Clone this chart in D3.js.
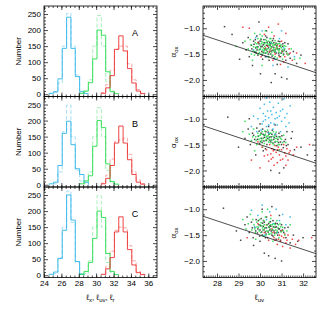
<!DOCTYPE html>
<html>
<head>
<meta charset="utf-8">
<script src="https://cdn.jsdelivr.net/npm/d3@7"></script>
<style>
body { margin: 0; background: #fff; }
svg { display: block; }
text { font-family: "Liberation Sans", Arial, sans-serif; fill: #000; }
</style>
</head>
<body>
<div id="chart"></div>
<script>
// histogram bin edges (0.5 wide)
const binEdges = [24.1, 24.6, 25.1, 25.6, 26.1, 26.6, 27.1, 27.6, 28.1, 28.6, 29.1, 29.6, 30.1,
    30.6, 31.1, 31.6, 32.1, 32.6, 33.1, 33.6, 34.1, 34.6, 35.1, 35.6, 36.1];

// counts per bin; solid = bright line, dashed = pale line
const blueSolidA  = [0, 3, 8, 48, 143, 240, 143, 55, 8, 2, 0, 0, 0, 0, 0, 0, 0, 0, 0, 0, 0, 0, 0, 0];
const blueDashA   = [0, 2, 5, 35, 150, 252, 150, 60, 10, 0, 0, 0, 0, 0, 0, 0, 0, 0, 0, 0, 0, 0, 0, 0];
const greenSolidA = [0, 0, 0, 0, 0, 0, 0, 0, 3, 10, 36, 110, 200, 184, 70, 8, 2, 0, 0, 0, 0, 0, 0, 0];
const greenDashA  = [0, 0, 0, 0, 0, 0, 0, 0, 2, 8, 45, 150, 245, 150, 40, 10, 0, 0, 0, 0, 0, 0, 0, 0];
const redSolidA   = [0, 0, 0, 0, 0, 0, 0, 0, 0, 0, 0, 0, 0, 3, 20, 58, 140, 182, 135, 80, 35, 10, 2, 0];
const redDashA    = [0, 0, 0, 0, 0, 0, 0, 0, 0, 0, 0, 0, 0, 5, 30, 75, 140, 150, 150, 95, 45, 15, 4, 0];

const blueSolidB  = [0, 3, 8, 60, 160, 198, 125, 50, 32, 8, 0, 0, 0, 0, 0, 0, 0, 0, 0, 0, 0, 0, 0, 0];
const blueDashB   = [0, 0, 3, 40, 165, 248, 150, 45, 12, 0, 0, 0, 0, 0, 0, 0, 0, 0, 0, 0, 0, 0, 0, 0];
const greenSolidB = [0, 0, 0, 0, 0, 0, 0, 0, 3, 12, 28, 120, 200, 178, 65, 10, 2, 0, 0, 0, 0, 0, 0, 0];
const greenDashB  = [0, 0, 0, 0, 0, 0, 0, 0, 0, 5, 40, 150, 240, 150, 45, 8, 0, 0, 0, 0, 0, 0, 0, 0];
const redSolidB   = [0, 0, 0, 0, 0, 0, 0, 0, 0, 0, 0, 0, 0, 3, 20, 60, 130, 183, 130, 78, 32, 8, 2, 0];
const redDashB    = [0, 0, 0, 0, 0, 0, 0, 0, 0, 0, 0, 0, 0, 5, 30, 80, 135, 140, 145, 95, 40, 15, 3, 0];

const blueSolidC  = [0, 3, 10, 52, 140, 250, 172, 43, 3, 0, 0, 0, 0, 0, 0, 0, 0, 0, 0, 0, 0, 0, 0, 0];
const blueDashC   = [0, 0, 5, 55, 150, 262, 165, 40, 5, 0, 0, 0, 0, 0, 0, 0, 0, 0, 0, 0, 0, 0, 0, 0];
const greenSolidC = [0, 0, 0, 0, 0, 0, 0, 0, 3, 12, 40, 115, 200, 180, 68, 12, 2, 0, 0, 0, 0, 0, 0, 0];
const greenDashC  = [0, 0, 0, 0, 0, 0, 0, 0, 0, 6, 45, 150, 248, 150, 40, 8, 0, 0, 0, 0, 0, 0, 0, 0];
const redSolidC   = [0, 0, 0, 0, 0, 0, 0, 0, 0, 0, 0, 0, 0, 3, 20, 55, 135, 182, 135, 80, 32, 8, 2, 0];
const redDashC    = [0, 0, 0, 0, 0, 0, 0, 0, 0, 0, 0, 0, 0, 0, 28, 75, 140, 150, 148, 92, 45, 12, 3, 0];

// scatter points [l_uv, alpha_ox]
const blackA = [[28.35,-0.97],[28.7,-1.12],[29.05,-1.6],[29.2,-1.28],[29.35,-1.42],[29.45,-1.18],[29.5,-1.55],[29.6,-1.33],[29.65,-1.72],[29.7,-1.25],[29.75,-1.46],[29.8,-1.38],[29.85,-1.15],[29.9,-1.52],[29.95,-1.3],[30.0,-1.41],[30.02,-1.88],[30.05,-1.22],[30.1,-1.35],[30.12,-1.6],[30.15,-1.47],[30.2,-1.28],[30.22,-1.4],[30.25,-1.55],[30.3,-1.33],[30.32,-1.18],[30.35,-1.45],[30.4,-1.38],[30.42,-1.62],[30.45,-1.27],[30.5,-1.5],[30.52,-2.05],[30.55,-1.36],[30.6,-1.43],[30.62,-1.2],[30.65,-1.58],[30.7,-1.32],[30.75,-1.48],[30.8,-1.7],[30.85,-1.25],[30.9,-1.4],[30.95,-1.55],[31.0,-1.95],[31.05,-1.35],[31.1,-1.5],[31.2,-1.62],[31.3,-1.3],[31.4,-1.58],[31.55,-1.45],[31.7,-1.68],[31.9,-1.52],[30.3,-1.05],[29.95,-0.88],[30.7,-1.88],[31.25,-1.98],
    [29.9,-1.36],[30.0,-1.25],[30.08,-1.45],[30.15,-1.32],[30.28,-1.42],[30.33,-1.27],[30.38,-1.5],[30.46,-1.33],[30.52,-1.44],[30.58,-1.24],[30.63,-1.37],[30.68,-1.46],[30.74,-1.29],[30.82,-1.4],[30.88,-1.52],[30.93,-1.34],[31.02,-1.44],[31.15,-1.28],[29.82,-1.48],[29.72,-1.31],
    [29.62,-1.4],[29.78,-1.22],[29.86,-1.42],[29.93,-1.27],[30.04,-1.36],[30.1,-1.52],[30.18,-1.22],[30.24,-1.48],[30.36,-1.34],[30.44,-1.46],[30.5,-1.3],[30.56,-1.54],[30.64,-1.28],[30.7,-1.42],[30.78,-1.34],[30.86,-1.48],[30.92,-1.26],[31.0,-1.48],[31.06,-1.3],[31.12,-1.42],[31.22,-1.45],[31.35,-1.5],[30.4,-1.55],[30.26,-1.15]];
const greenA = [[28.9,-1.35],[29.3,-1.25],[29.45,-1.4],[29.55,-1.22],[29.6,-1.5],[29.7,-1.36],[29.75,-1.1],[29.8,-1.45],[29.85,-1.3],[29.9,-1.2],[29.95,-1.42],[30.0,-1.33],[30.05,-1.5],[30.08,-1.26],[30.1,-1.15],[30.15,-1.38],[30.18,-1.44],[30.2,-1.3],[30.25,-1.22],[30.28,-1.48],[30.3,-1.4],[30.35,-1.3],[30.38,-1.55],[30.4,-1.25],[30.45,-1.42],[30.48,-1.35],[30.5,-1.2],[30.55,-1.46],[30.58,-1.3],[30.6,-1.52],[30.65,-1.38],[30.7,-1.24],[30.72,-1.45],[30.78,-1.35],[30.8,-1.58],[30.85,-1.42],[30.9,-1.3],[30.95,-1.48],[31.0,-1.38],[31.05,-1.6],[31.1,-1.45],[31.2,-1.35],[31.3,-1.52],[31.45,-1.4],[31.6,-1.6],[30.25,-1.05],[30.55,-1.08],[29.65,-1.62],[30.1,-1.72],[31.85,-1.58],[30.0,-1.12],
    [29.88,-1.38],[29.97,-1.47],[30.03,-1.2],[30.12,-1.42],[30.22,-1.35],[30.27,-1.28],[30.33,-1.46],[30.42,-1.32],[30.47,-1.5],[30.53,-1.27],[30.62,-1.41],[30.67,-1.32],[30.75,-1.4],[30.83,-1.3],[30.88,-1.46],[30.98,-1.32],[31.08,-1.52],[31.15,-1.4],[29.78,-1.28],[29.68,-1.44],
    [29.58,-1.32],[29.74,-1.52],[29.83,-1.36],[29.92,-1.5],[30.02,-1.4],[30.06,-1.3],[30.14,-1.28],[30.2,-1.42],[30.3,-1.24],[30.36,-1.4],[30.44,-1.3],[30.52,-1.38],[30.6,-1.33],[30.66,-1.44],[30.74,-1.3],[30.8,-1.38],[30.9,-1.42],[30.96,-1.36],[31.04,-1.42],[31.12,-1.34],[31.25,-1.48],[30.46,-1.2],[30.16,-1.48],[30.7,-1.55]];
const redA = [[29.5,-1.0],[29.9,-1.28],[30.05,-1.55],[30.2,-1.12],[30.35,-1.35],[30.5,-1.4],[30.6,-1.62],[30.65,-1.15],[30.7,-1.5],[30.8,-1.32],[30.85,-0.92],[30.9,-1.55],[31.0,-1.25],[31.05,-1.45],[31.1,-1.65],[31.2,-1.1],[31.25,-1.5],[31.35,-1.4],[31.5,-1.62],[31.7,-1.48],[32.1,-1.68],[29.2,-0.98],[30.4,-0.98],[30.95,-1.7],
    [30.45,-1.45],[30.75,-1.38],[31.15,-1.55],[30.9,-1.35],[30.25,-1.38],[31.4,-1.48]];
const blueA = [[29.8,-1.18],[30.1,-1.05],[30.3,-1.55],[30.5,-1.28],[30.7,-1.6],[30.9,-1.2],[31.1,-1.38],[31.3,-1.75],[31.6,-1.55],[30.6,-1.72],[29.7,-1.42],[31.0,-1.05]];

const blackB = [[28.5,-0.97],[29.0,-1.55],[29.3,-1.38],[29.45,-1.2],[29.55,-1.5],[29.65,-1.28],[29.75,-1.4],[29.85,-1.18],[29.92,-1.34],[29.98,-1.48],[30.05,-1.28],[30.08,-1.38],[30.12,-1.2],[30.18,-1.43],[30.22,-1.32],[30.27,-1.25],[30.32,-1.5],[30.36,-1.38],[30.42,-1.3],[30.46,-1.42],[30.52,-1.35],[30.57,-1.22],[30.6,-1.47],[30.66,-1.36],[30.72,-1.3],[30.78,-1.52],[30.83,-1.4],[30.88,-1.28],[30.95,-1.45],[31.02,-1.33],[31.08,-1.56],[31.18,-1.4],[31.3,-1.5],[31.45,-1.38],[31.6,-1.6],[31.9,-1.55],[32.2,-1.7],[30.5,-2.0],[30.9,-2.05],[31.1,-1.95],[29.8,-1.7],[30.0,-1.1],[29.5,-1.0],[30.25,-1.58],[30.65,-1.6],[31.25,-1.25],[30.15,-1.62],[30.4,-1.15],[30.7,-1.12],[31.5,-1.25],
    [29.7,-1.32],[29.88,-1.4],[29.96,-1.24],[30.02,-1.44],[30.14,-1.3],[30.2,-1.36],[30.3,-1.42],[30.38,-1.26],[30.44,-1.36],[30.5,-1.45],[30.55,-1.3],[30.63,-1.4],[30.7,-1.45],[30.76,-1.34],[30.86,-1.46],[30.92,-1.35],[31.0,-1.5],[31.12,-1.44],[31.22,-1.52],[30.1,-1.46]];
const greenB = [[29.2,-1.25],[29.5,-1.3],[29.6,-1.42],[29.7,-1.2],[29.8,-1.35],[29.85,-1.5],[29.9,-1.28],[29.95,-1.4],[30.0,-1.32],[30.05,-1.45],[30.1,-1.25],[30.15,-1.38],[30.2,-1.48],[30.25,-1.3],[30.3,-1.4],[30.35,-1.22],[30.4,-1.45],[30.45,-1.35],[30.5,-1.28],[30.55,-1.42],[30.6,-1.34],[30.65,-1.5],[30.7,-1.38],[30.75,-1.26],[30.8,-1.44],[30.85,-1.35],[30.9,-1.5],[31.0,-1.4],[31.1,-1.32],[31.2,-1.46],[30.12,-1.55],[30.38,-1.33],[30.62,-1.25],[29.75,-1.62],[30.9,-1.6],[29.3,-1.05],[30.28,-1.36],[30.48,-1.46],[30.72,-1.44],[30.02,-1.38],
    [29.66,-1.35],[29.82,-1.42],[29.93,-1.33],[30.04,-1.3],[30.08,-1.42],[30.18,-1.32],[30.26,-1.42],[30.32,-1.34],[30.42,-1.4],[30.52,-1.4],[30.58,-1.48],[30.68,-1.32],[30.78,-1.38],[30.84,-1.5],[30.95,-1.38],[31.05,-1.46],[30.22,-1.24],[30.46,-1.28]];
const redB = [[30.1,-1.55],[30.2,-1.72],[30.3,-1.6],[30.4,-1.82],[30.45,-1.5],[30.5,-1.68],[30.55,-1.58],[30.6,-1.75],[30.7,-1.52],[30.75,-1.65],[30.8,-1.85],[30.85,-1.55],[30.9,-1.7],[31.0,-1.6],[31.05,-1.78],[31.1,-1.5],[31.15,-1.66],[31.25,-1.58],[31.3,-1.8],[31.4,-1.62],[31.55,-1.7],[31.7,-1.55],[32.3,-1.5],[29.6,-1.8],[30.0,-1.95],[30.65,-1.9],[31.2,-1.9],[29.9,-1.45],
    [30.35,-1.7],[30.62,-1.62],[30.95,-1.8],[31.2,-1.72],[30.82,-1.6],[31.35,-1.66],[30.52,-1.78]];
const blueB = [[29.7,-0.95],[29.9,-1.0],[30.0,-0.8],[30.1,-1.1],[30.15,-0.9],[30.2,-0.72],[30.25,-1.02],[30.3,-1.15],[30.35,-0.85],[30.4,-0.98],[30.45,-0.68],[30.5,-1.08],[30.55,-0.92],[30.6,-1.2],[30.62,-0.78],[30.7,-1.0],[30.75,-0.88],[30.8,-1.12],[30.85,-0.7],[30.9,-0.95],[31.0,-1.05],[31.05,-0.82],[31.1,-0.62],[31.15,-0.98],[31.25,-0.9],[31.35,-1.08],[30.05,-1.22],[30.4,-1.28],[30.7,-1.3],[29.6,-1.15],[31.4,-0.75],[30.95,-1.25],[30.3,-0.6],[29.85,-1.25],
    [30.25,-0.95],[30.5,-0.85],[30.65,-1.1],[30.95,-0.85],[30.15,-1.05],[30.8,-0.98],[31.2,-1.15],[30.4,-1.12]];

const blackC = [[28.3,-0.98],[28.9,-1.42],[29.1,-1.6],[29.3,-1.3],[29.4,-1.15],[29.5,-1.45],[29.6,-1.25],[29.68,-1.55],[29.75,-1.35],[29.82,-1.2],[29.88,-1.46],[29.95,-1.3],[30.0,-1.4],[30.05,-1.18],[30.1,-1.5],[30.15,-1.33],[30.2,-1.25],[30.25,-1.44],[30.3,-1.36],[30.35,-1.55],[30.4,-1.28],[30.45,-1.4],[30.5,-1.33],[30.55,-1.5],[30.6,-1.22],[30.65,-1.42],[30.7,-1.35],[30.75,-1.58],[30.8,-1.28],[30.85,-1.45],[30.9,-1.38],[30.95,-1.6],[31.0,-1.3],[31.1,-1.45],[31.2,-1.55],[31.3,-1.35],[31.4,-1.65],[31.55,-1.5],[31.75,-1.62],[32.0,-1.55],[30.2,-1.85],[30.4,-1.9],[30.7,-1.95],[31.0,-2.0],[30.1,-1.0],[30.55,-0.95],[29.7,-1.7],[30.0,-1.62],[30.3,-1.15],[30.9,-1.12],[29.9,-1.38],[30.12,-1.27],[30.28,-1.48],[30.42,-1.35],[30.58,-1.4],[30.72,-1.27],[30.82,-1.5],[29.98,-1.52],[30.18,-1.4],[30.48,-1.24],
    [29.64,-1.36],[29.8,-1.42],[29.92,-1.22],[30.02,-1.32],[30.08,-1.44],[30.16,-1.22],[30.22,-1.36],[30.32,-1.3],[30.38,-1.44],[30.46,-1.32],[30.52,-1.42],[30.62,-1.34],[30.68,-1.46],[30.76,-1.34],[30.86,-1.38],[30.96,-1.42],[31.04,-1.4],[31.15,-1.36],[30.25,-1.55],[30.6,-1.52]];
const greenC = [[29.2,-1.2],[29.35,-1.38],[29.45,-1.28],[29.55,-1.1],[29.62,-1.4],[29.72,-1.3],[29.78,-1.45],[29.85,-1.25],[29.92,-1.35],[29.98,-1.2],[30.03,-1.45],[30.08,-1.32],[30.13,-1.4],[30.17,-1.22],[30.22,-1.36],[30.27,-1.5],[30.32,-1.3],[30.37,-1.42],[30.43,-1.25],[30.47,-1.38],[30.53,-1.46],[30.57,-1.3],[30.63,-1.35],[30.68,-1.5],[30.73,-1.4],[30.78,-1.22],[30.83,-1.36],[30.88,-1.55],[30.93,-1.28],[30.98,-1.44],[31.05,-1.35],[31.15,-1.5],[31.25,-1.42],[31.4,-1.3],[30.1,-1.05],[30.35,-1.0],[30.6,-1.62],[29.8,-1.58],[30.25,-1.15],[30.5,-1.18],[30.0,-1.3],[30.4,-1.48],[30.7,-1.3],[30.15,-1.52],
    [29.66,-1.2],[29.76,-1.38],[29.86,-1.34],[29.96,-1.42],[30.05,-1.26],[30.2,-1.3],[30.3,-1.42],[30.4,-1.34],[30.5,-1.3],[30.58,-1.4],[30.66,-1.28],[30.76,-1.46],[30.86,-1.3],[30.96,-1.34],[31.08,-1.42],[30.45,-1.48],[30.12,-1.36],[30.8,-1.42]];
const redC = [[29.4,-1.55],[29.9,-1.28],[30.2,-1.45],[30.4,-1.6],[30.55,-1.38],[30.65,-1.55],[30.75,-1.45],[30.8,-1.68],[30.9,-1.5],[30.95,-1.62],[31.0,-1.42],[31.05,-1.72],[31.1,-1.55],[31.2,-1.65],[31.3,-1.5],[31.4,-1.75],[31.5,-1.58],[31.65,-1.68],[31.8,-1.6],[32.4,-1.55],[30.5,-1.12],[30.3,-1.3],
    [30.7,-1.6],[31.0,-1.52],[30.85,-1.58],[31.25,-1.6],[30.6,-1.45],[31.15,-1.48]];
const blueC = [[29.6,-1.02],[29.9,-1.12],[30.1,-0.92],[30.3,-1.2],[30.45,-1.05],[30.6,-1.28],[30.75,-1.0],[30.9,-1.22],[31.05,-1.1],[31.2,-1.3],[30.2,-1.5],[30.8,-1.45],[31.4,-1.15],[29.75,-1.35]];

// best-fit relation drawn in every right panel
const fitX = [27.35, 32.6];
const fitY = [-1.135, -1.86];

const panelLabels = ['A', 'B', 'C'];
const histTicks = [0, 50, 100, 150, 200, 250];
const histXTicks = [24, 26, 28, 30, 32, 34, 36];
const scatYTicks = [-1.0, -1.5, -2.0];
const scatXTicks = [28, 29, 30, 31, 32];

// minor tick values
const histXMinor = [24.5, 25, 25.5, 26, 26.5, 27, 27.5, 28, 28.5, 29, 29.5, 30, 30.5, 31, 31.5, 32, 32.5, 33, 33.5, 34, 34.5, 35, 35.5, 36, 36.5];
const histYMinor = [10, 20, 30, 40, 60, 70, 80, 90, 110, 120, 130, 140, 160, 170, 180, 190, 210, 220, 230, 240, 260, 270];
const scatXMinor = [27.4, 27.5, 27.6, 27.7, 27.8, 27.9, 28.1, 28.2, 28.3, 28.4, 28.5, 28.6, 28.7, 28.8, 28.9,
    29.1, 29.2, 29.3, 29.4, 29.5, 29.6, 29.7, 29.8, 29.9, 30.1, 30.2, 30.3, 30.4, 30.5, 30.6, 30.7, 30.8, 30.9,
    31.1, 31.2, 31.3, 31.4, 31.5, 31.6, 31.7, 31.8, 31.9, 32.1, 32.2, 32.3, 32.4, 32.5];
const scatYMinor = [-0.6, -0.7, -0.8, -0.9, -1.1, -1.2, -1.3, -1.4, -1.6, -1.7, -1.8, -1.9, -2.1, -2.2, -2.3];

const colors = { blue: '#2fb4ea', green: '#25dd4d', red: '#ee3030', black: '#333' };
const pale = { blue: '#a6dcf3', green: '#a9efb9', red: '#f6a8a8' };

const panels = [
    { hist: { blue: [blueSolidA, blueDashA], green: [greenSolidA, greenDashA], red: [redSolidA, redDashA] },
      pts: [['black', blackA], ['red', redA], ['blue', blueA], ['green', greenA]] },
    { hist: { blue: [blueSolidB, blueDashB], green: [greenSolidB, greenDashB], red: [redSolidB, redDashB] },
      pts: [['black', blackB], ['green', greenB], ['blue', blueB], ['red', redB]] },
    { hist: { blue: [blueSolidC, blueDashC], green: [greenSolidC, greenDashC], red: [redSolidC, redDashC] },
      pts: [['black', blackC], ['red', redC], ['blue', blueC], ['green', greenC]] }
];

const W = 323, H = 323;
const panelTop = [6, 96.5, 187];
const panelH = 90.5;
const leftL = 44, leftR = 157, rightL = 203, rightR = 316;

const svg = d3.select('#chart').append('svg')
    .attr('width', W)
    .attr('height', H);

const hx = d3.scaleLinear().domain([24, 37]).range([leftL, leftR]);
const sx = d3.scaleLinear().domain([27.35, 32.6]).range([rightL, rightR]);

function stepPoints(counts) {
    let first = counts.findIndex(c => c > 0);
    let last = counts.length - 1;
    while (last > 0 && counts[last] === 0) last--;
    const pts = [[binEdges[first], 0]];
    for (let i = first; i <= last; i++) {
        pts.push([binEdges[i], counts[i]]);
        pts.push([binEdges[i + 1], counts[i]]);
    }
    pts.push([binEdges[last + 1], 0]);
    return pts;
}

function drawTicks(g, scale, orient, pos, major, minor, len, showLabels, fmt) {
    const mk = {
        bottom: d3.axisBottom, top: d3.axisTop, left: d3.axisLeft, right: d3.axisRight
    }[orient];
    const tr = (orient === 'bottom' || orient === 'top') ? `translate(0,${pos})` : `translate(${pos},0)`;
    g.append('g')
        .attr('transform', tr)
        .call(mk(scale).tickValues(minor).tickSize(-len / 2).tickFormat(''))
        .call(a => a.select('.domain').remove());
    const ax = g.append('g')
        .attr('transform', tr)
        .call(mk(scale).tickValues(major).tickSize(-len).tickPadding(3)
            .tickFormat(showLabels ? fmt : ''))
        .call(a => a.select('.domain').remove());
    ax.selectAll('text').style('font-size', '8px').style('font-family', '"Liberation Sans", Arial, sans-serif');
    g.selectAll('line').attr('stroke', '#000').attr('stroke-width', 0.7);
}

panels.forEach((p, pi) => {
    const top = panelTop[pi];
    const bottom = top + panelH;
    const hy = d3.scaleLinear().domain([-7, 275]).range([bottom, top]);
    const sy = d3.scaleLinear().domain([-2.32, -0.57]).range([bottom, top]);
    const isLast = pi === panels.length - 1;

    // ---- left: histograms ----
    const gl = svg.append('g');
    const clipId = 'clipL' + pi;
    gl.append('clipPath').attr('id', clipId).append('rect')
        .attr('x', leftL).attr('y', top).attr('width', leftR - leftL).attr('height', panelH);
    const line = d3.line().x(d => hx(d[0])).y(d => hy(d[1]));
    const hg = gl.append('g').attr('clip-path', `url(#${clipId})`);
    ['blue', 'green', 'red'].forEach(c => {
        hg.append('path')
            .attr('d', line(stepPoints(p.hist[c][1])))
            .attr('fill', 'none')
            .attr('stroke', pale[c])
            .attr('stroke-width', 1)
            .attr('stroke-dasharray', '4,2');
    });
    ['blue', 'green', 'red'].forEach(c => {
        hg.append('path')
            .attr('d', line(stepPoints(p.hist[c][0])))
            .attr('fill', 'none')
            .attr('stroke', colors[c])
            .attr('stroke-width', 0.9);
    });

    gl.append('rect')
        .attr('x', leftL).attr('y', top)
        .attr('width', leftR - leftL).attr('height', panelH)
        .attr('fill', 'none').attr('stroke', '#000').attr('stroke-width', 0.8);
    drawTicks(gl, hx, 'bottom', bottom, histXTicks, histXMinor, 4, isLast, d3.format('d'));
    drawTicks(gl, hx, 'top', top, histXTicks, histXMinor, 4, false, d3.format('d'));
    drawTicks(gl, hy, 'left', leftL, histTicks, histYMinor, 4, true, d3.format('d'));
    drawTicks(gl, hy, 'right', leftR, histTicks, histYMinor, 4, false, d3.format('d'));

    gl.append('text')
        .attr('x', 135).attr('y', top + 30)
        .attr('text-anchor', 'middle')
        .style('font-size', '9px')
        .text(panelLabels[pi]);

    gl.append('text')
        .attr('transform', `translate(21,${top + panelH / 2}) rotate(-90)`)
        .attr('text-anchor', 'middle')
        .style('font-size', '8px')
        .text('Number');

    // ---- right: alpha_ox vs l_uv ----
    const gr = svg.append('g');
    const clipR = 'clipR' + pi;
    gr.append('clipPath').attr('id', clipR).append('rect')
        .attr('x', rightL).attr('y', top).attr('width', rightR - rightL).attr('height', panelH);
    const sg = gr.append('g').attr('clip-path', `url(#${clipR})`);
    p.pts.forEach(([c, arr]) => {
        sg.selectAll(null)
            .data(arr)
            .enter()
            .append('rect')
            .attr('x', d => sx(d[0]) - 0.75)
            .attr('y', d => sy(d[1]) - 0.75)
            .attr('width', 1.5)
            .attr('height', 1.5)
            .attr('fill', colors[c])
            .attr('opacity', 0.9);
    });
    sg.append('line')
        .attr('x1', sx(fitX[0])).attr('y1', sy(fitY[0]))
        .attr('x2', sx(fitX[1])).attr('y2', sy(fitY[1]))
        .attr('stroke', '#666')
        .attr('stroke-width', 0.7);

    gr.append('rect')
        .attr('x', rightL).attr('y', top)
        .attr('width', rightR - rightL).attr('height', panelH)
        .attr('fill', 'none').attr('stroke', '#000').attr('stroke-width', 0.8);
    const fmt1 = d => d3.format('.1f')(d).replace('-', '\u2212');
    drawTicks(gr, sx, 'bottom', bottom, scatXTicks, scatXMinor, 4, isLast, d3.format('d'));
    drawTicks(gr, sx, 'top', top, scatXTicks, scatXMinor, 4, false, d3.format('d'));
    drawTicks(gr, sy, 'left', rightL, scatYTicks, scatYMinor, 4, true, fmt1);
    drawTicks(gr, sy, 'right', rightR, scatYTicks, scatYMinor, 4, false, fmt1);

    const yl = gr.append('text')
        .attr('transform', `translate(176,${top + 46}) rotate(-90)`)
        .attr('text-anchor', 'middle')
        .style('font-size', '8px');
    yl.append('tspan').text('\u03b1');
    yl.append('tspan').attr('dy', 2).style('font-size', '6px').text('ox');
});

// x titles
const xt = svg.append('text')
    .attr('x', (leftL + leftR) / 2).attr('y', 300)
    .attr('text-anchor', 'middle')
    .style('font-size', '8px');
[['x', ', '], ['uv', ', '], ['r', '']].forEach(([sub, sep]) => {
    xt.append('tspan').text('\u2113');
    xt.append('tspan').attr('dy', 2).style('font-size', '6px').text(sub);
    xt.append('tspan').attr('dy', -2).text(sep);
});

const xr = svg.append('text')
    .attr('x', (rightL + rightR) / 2).attr('y', 300)
    .attr('text-anchor', 'middle')
    .style('font-size', '8px');
xr.append('tspan').text('\u2113');
xr.append('tspan').attr('dy', 2).style('font-size', '6px').text('uv');
</script>
</body>
</html>
